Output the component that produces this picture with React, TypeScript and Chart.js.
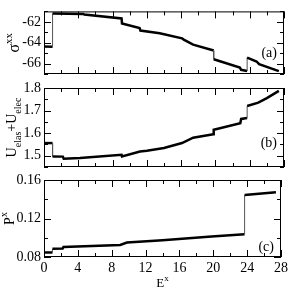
import React, { useEffect, useRef } from "react";
import { Chart, registerables } from "chart.js";
Chart.register(...registerables);

// ---- data ----
const sigmaX = [0, 1, 1, 4.6, 4.7, 9.05, 9.1, 11.15, 11.25, 13.5, 16.1, 16.3, 17.4, 19.8, 19.8, 22.85, 23.0, 23.7, 23.7, 24.8, 25.1, 27.4];
const sigmaY = [-64.37, -64.4, -61.2, -61.25, -61.3, -61.68, -62.16, -62.6, -62.84, -63.1, -63.58, -63.7, -64.18, -64.75, -65.58, -66.38, -66.6, -66.72, -65.43, -65.8, -66.05, -66.72];

const energyX = [0, 1, 1, 2.2, 2.3, 4.2, 9.05, 9.1, 11.2, 12, 14, 16.1, 17.4, 19.75, 19.8, 22.9, 23.0, 23.7, 23.7, 25.0, 26.0, 27.4];
const energyY = [1.556, 1.556, 1.497, 1.496, 1.487, 1.49, 1.504, 1.497, 1.519, 1.522, 1.534, 1.556, 1.58, 1.595, 1.615, 1.644, 1.663, 1.667, 1.72, 1.735, 1.755, 1.787];

const polX = [0, 1, 1, 2.2, 2.3, 9.0, 9.8, 14, 19.8, 23.7, 23.7, 27.4];
const polY = [0.0847, 0.0847, 0.0885, 0.0888, 0.0905, 0.0925, 0.095, 0.0975, 0.1012, 0.1036, 0.1444, 0.1473];

const xMajorTicks = [0, 4, 8, 12, 16, 20, 24, 28];
const sigmaLabels = [-66, -64, -62];
const energyLabels = [1.5, 1.6, 1.7, 1.8];
const polLabels = [0.08, 0.12, 0.16];
const panelLetters = ["(a)", "(b)", "(c)"];

const FONT = '"Liberation Serif", "Times New Roman", serif';

type Part = { text: string; size: number; dy: number };

function drawRich(ctx: CanvasRenderingContext2D, parts: Part[], x: number, y: number, rotate: boolean) {
  ctx.save();
  ctx.translate(x, y);
  if (rotate) ctx.rotate(-Math.PI / 2);
  ctx.textBaseline = "alphabetic";
  ctx.textAlign = "left";
  ctx.fillStyle = "#000";
  const widths = parts.map((p) => {
    ctx.font = `${p.size}px ${FONT}`;
    return ctx.measureText(p.text).width;
  });
  const total = widths.reduce((a, b) => a + b, 0);
  let cx = -total / 2;
  parts.forEach((p, i) => {
    ctx.font = `${p.size}px ${FONT}`;
    ctx.fillText(p.text, cx, p.dy);
    cx += widths[i];
  });
  ctx.restore();
}

type Panel = {
  xs: number[];
  ys: number[];
  yMin: number;
  yMax: number;
  yMinor: number;
  labels: number[];
  decimals: number;
  top: number;
  bottom: number;
  showX: boolean;
  title: Part[];
  titleX: number;
  letter: string;
  letterValue: number;
};

const panels: Panel[] = [
  {
    xs: sigmaX, ys: sigmaY, yMin: -67, yMax: -61, yMinor: 1, labels: sigmaLabels, decimals: 0,
    top: 1, bottom: 74, showX: false,
    title: [{ text: "σ", size: 16, dy: 0 }, { text: "xx", size: 11, dy: -7 }], titleX: 19,
    letter: panelLetters[0], letterValue: -65,
  },
  {
    xs: energyX, ys: energyY, yMin: 1.45, yMax: 1.8, yMinor: 0.05, labels: energyLabels, decimals: 1,
    top: 88, bottom: 167, showX: false,
    title: [
      { text: "U", size: 14, dy: 0 }, { text: "elas", size: 10, dy: 5 },
      { text: "+", size: 14, dy: 0 },
      { text: "U", size: 14, dy: 0 }, { text: "elec", size: 10, dy: 5 },
    ], titleX: 16,
    letter: panelLetters[1], letterValue: 1.555,
  },
  {
    xs: polX, ys: polY, yMin: 0.08, yMax: 0.16, yMinor: 0.02, labels: polLabels, decimals: 2,
    top: 180, bottom: 257, showX: true,
    title: [{ text: "P", size: 14, dy: 0 }, { text: "x", size: 10, dy: -7 }], titleX: 14,
    letter: panelLetters[2], letterValue: 0.09,
  },
];

const W = 291;
const H = 288;

function isLabel(v: number, labels: number[]) {
  return labels.some((l) => Math.abs(l - v) < 1e-6);
}

function makeChart(canvas: HTMLCanvasElement, p: Panel) {
  const framePlugin = {
    id: "frame",
    afterDatasetsDraw(chart: any) {
      const { ctx, chartArea: a, scales } = chart;
      const xs = scales.x;
      const ys = scales.y;
      ctx.save();
      ctx.strokeStyle = "#000";
      ctx.lineWidth = 1;
      ctx.strokeRect(a.left + 0.5, a.top + 0.5, a.right - a.left - 1, a.bottom - a.top - 1);
      ctx.beginPath();
      for (let v = 0; v <= 28 + 1e-9; v += 2) {
        const px = Math.round(xs.getPixelForValue(v)) + 0.5;
        const len = xMajorTicks.includes(v) ? 7 : 4;
        ctx.moveTo(px, a.bottom);
        ctx.lineTo(px, a.bottom - len);
        ctx.moveTo(px, a.top);
        ctx.lineTo(px, a.top + len);
      }
      const n = Math.round((p.yMax - p.yMin) / p.yMinor);
      for (let i = 0; i <= n; i++) {
        const v = p.yMin + i * p.yMinor;
        const py = Math.round(ys.getPixelForValue(v)) + 0.5;
        const len = isLabel(v, p.labels) ? 7 : 4;
        ctx.moveTo(a.left, py);
        ctx.lineTo(a.left + len, py);
        ctx.moveTo(a.right, py);
        ctx.lineTo(a.right - len, py);
      }
      ctx.stroke();
      ctx.fillStyle = "#000";
      ctx.font = `14px ${FONT}`;
      ctx.textAlign = "right";
      ctx.textBaseline = "middle";
      ctx.fillText(p.letter, a.right - 7, ys.getPixelForValue(p.letterValue));
      ctx.restore();
      drawRich(ctx, p.title, p.titleX, (a.top + a.bottom) / 2, true);
      if (p.showX) {
        drawRich(ctx, [{ text: "E", size: 13, dy: 0 }, { text: "x", size: 9, dy: -6 }], (a.left + a.right) / 2, 287, false);
      }
    },
  };

  return new Chart(canvas, {
    type: "line",
    data: {
      datasets: [
        {
          data: p.xs.map((x, i) => ({ x, y: p.ys[i] })),
          borderColor: "#000",
          borderWidth: 2.5,
          pointRadius: 0,
          tension: 0,
          fill: false,
          segment: {
            borderWidth: (c: any) => (c.p0.parsed.x === c.p1.parsed.x ? 1 : 2.5),
            borderColor: (c: any) => (c.p0.parsed.x === c.p1.parsed.x ? "#555" : "#000"),
          },
        },
      ],
    },
    options: {
      responsive: false,
      animation: false,
      events: [],
      layout: { padding: { left: 0, right: 7, top: p.top, bottom: p.showX ? 0 : H - p.bottom } },
      plugins: { legend: { display: false }, tooltip: { enabled: false } },
      scales: {
        x: {
          type: "linear",
          min: 0,
          max: 28,
          display: p.showX,
          grid: { display: false, drawTicks: false },
          border: { display: false },
          ticks: {
            stepSize: 4,
            autoSkip: false,
            maxRotation: 0,
            color: "#000",
            padding: 3,
            font: { family: FONT, size: 14 },
          },
          afterFit: (s: any) => {
            s.height = p.showX ? H - p.bottom : 0;
          },
        },
        y: {
          type: "linear",
          min: p.yMin,
          max: p.yMax,
          grid: { display: false, drawTicks: false },
          border: { display: false },
          ticks: {
            stepSize: p.yMinor,
            autoSkip: false,
            color: "#000",
            padding: 3,
            font: { family: FONT, size: 14 },
            callback: (v: any) => (isLabel(Number(v), p.labels) ? Number(v).toFixed(p.decimals) : null),
          },
          afterFit: (s: any) => {
            s.width = 44;
          },
        },
      },
    },
    plugins: [framePlugin],
  } as any);
}

export default function App() {
  const r0 = useRef<HTMLCanvasElement>(null);
  const r1 = useRef<HTMLCanvasElement>(null);
  const r2 = useRef<HTMLCanvasElement>(null);
  useEffect(() => {
    const refs = [r0, r1, r2];
    const charts = panels.map((p, i) => makeChart(refs[i].current as HTMLCanvasElement, p));
    return () => charts.forEach((c) => c.destroy());
  }, []);
  const style: React.CSSProperties = { position: "absolute", left: 0, top: 0, width: W, height: H };
  return (
    <div style={{ position: "fixed", left: 0, top: 0, width: W, height: H, background: "#fff" }}>
      <canvas ref={r0} width={W} height={H} style={style} />
      <canvas ref={r1} width={W} height={H} style={style} />
      <canvas ref={r2} width={W} height={H} style={style} />
    </div>
  );
}
